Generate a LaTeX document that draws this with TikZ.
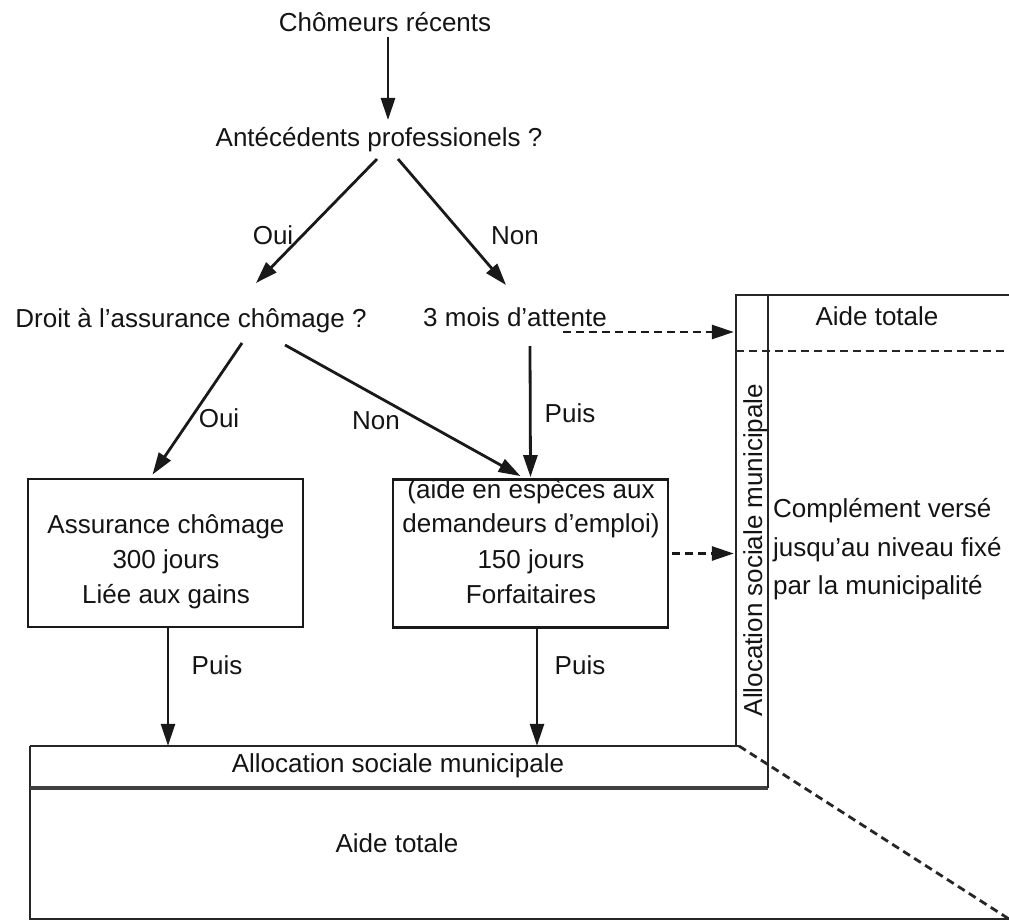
\documentclass[tikz,border=0pt]{standalone}
\usepackage{fontspec}
\setmainfont{Liberation Sans}
\usetikzlibrary{arrows.meta,calc}
\begin{document}
\begin{tikzpicture}[x=1pt,y=-1pt,
  every node/.style={font=\fontsize{26}{33}\selectfont, text=black!92, inner sep=0pt},
  txt/.style={anchor=base},
  conn/.style={draw=black!90, line width=2.8pt, -{Triangle[length=22pt,width=14pt]}},
  dconn/.style={conn, dash pattern=on 8pt off 5pt},
  frame/.style={draw=black!85, line width=2.8pt},
  thick frame/.style={draw=black!75, line width=4.5pt},
  dframe/.style={frame, dash pattern=on 8pt off 5pt},
  boxstyle/.style={draw=black!90, line width=2.8pt, minimum width=275pt, minimum height=148pt}]
\useasboundingbox (0,0) rectangle (1009,920);

% text nodes
\node[txt] (cr) at (385,32) {Chômeurs récents};
\node[txt] (ap) at (379,147) {Antécédents professionels ?};
\node[txt] (dr) at (191,327) {Droit à l’assurance chômage ?};
\node[txt] (tm) at (515,326) {3 mois d’attente};
\node[txt] (oui1) at (273,244) {Oui};
\node[txt] (non1) at (515,244) {Non};
\node[txt] (oui2) at (219,427) {Oui};
\node[txt] (non2) at (376,429) {Non};
\node[txt] (puis1) at (570,422) {Puis};
\node[txt] (puis2) at (217,674) {Puis};
\node[txt] (puis3) at (580,674) {Puis};

% boxes
\node[boxstyle] (ac) at (165.5,553) {};
\node[txt] (ac1) at (166,533) {Assurance chômage};
\node[txt] (ac2) at (166,568) {300 jours};
\node[txt] (ac3) at (166,603) {Liée aux gains};

\node[boxstyle] (mid) at (530.5,553.5) {};
\node[txt] (m1) at (531,498) {(aide en espèces aux};
\node[txt] (m2) at (531,532) {demandeurs d’emploi)};
\node[txt] (m3) at (531,568) {150 jours};
\node[txt] (m4) at (531,603) {Forfaitaires};

% bottom strip and vertical strip (areas)
\node[minimum width=738pt, minimum height=42pt] (strip) at (399,767) {};
\node[minimum width=32pt, minimum height=493pt] (vs) at (752,541.5) {};
\node[txt] (stript) at (398,772) {Allocation sociale municipale};
\node[txt] (aidet1) at (397,852) {Aide totale};
\node[txt, rotate=90] (vst) at (762,550) {Allocation sociale municipale};
\node[txt] (aidet2) at (877,325) {Aide totale};
\node[txt, anchor=base west] (c1) at (773,517) {Complément versé};
\node[txt, anchor=base west] (c2) at (773,556) {jusqu’au niveau fixé};
\node[txt, anchor=base west] (c3) at (773,594) {par la municipalité};

% frame lines
\draw[frame] (30,746) -- (739,746);
\draw[frame] (30,746) -- (30,919) -- (1009,919);
\draw[thick frame] (30,788) -- (768,788);
\draw[frame] (768,295) -- (768,788);
\draw[frame] (736,746) -- (736,295) -- (1009,295);
\draw[dframe] (736,351) -- (1009,351);
\draw[dframe] (739,746) -- (1009,919);

% connectors
\coordinate (dstart) at ([shift={(48,6)}]tm.base);
\draw[conn] ([shift={(3,5)}]cr.base) -- ([shift={(9,-27)}]ap.base);
\draw[conn] ([shift={(-2,12)}]ap.base) -- ([shift={(65,-44)}]dr.base);
\draw[conn] ([shift={(19,12)}]ap.base) -- ([shift={(-9,-41)}]tm.base);
\draw[conn] ([shift={(51,16)}]dr.base) -- ([shift={(-13,-3)}]ac.north);
\draw[conn] ([shift={(94,18)}]dr.base) -- ([shift={(-10,-2)}]mid.north);
\draw[conn] ([shift={(15,20)}]tm.base) -- ([shift={(0,-1)}]mid.north);
\draw[conn] ([xshift=2.5pt]ac.south) -- ([xshift=2.5pt]ac.south |- strip.north);
\draw[conn] ([xshift=6.5pt]mid.south) -- ([xshift=6.5pt]mid.south |- strip.north);
\draw[dconn] (dstart) -- ($(dstart -| vs.west)+(-2,0)$);
\draw[dconn] ([xshift=3pt]mid.east) -- ($(mid.east -| vs.west)+(-2,0)$);
\end{tikzpicture}
\end{document}
